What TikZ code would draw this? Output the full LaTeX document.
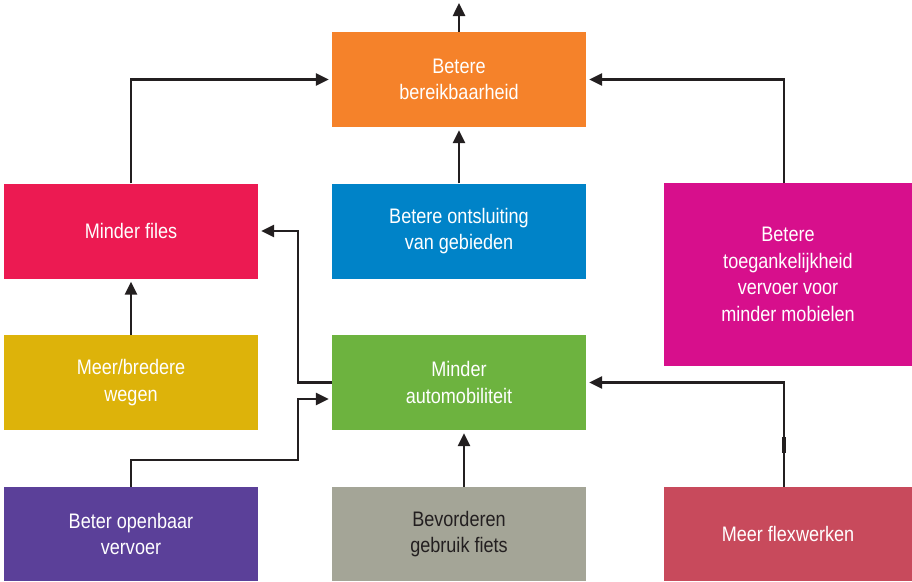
\documentclass[tikz,border=0pt]{standalone}
\usepackage{fontspec}
\setmainfont{Liberation Sans}[FakeStretch=0.86]
\usetikzlibrary{arrows.meta}

\definecolor{cOrange}{HTML}{F5822A}
\definecolor{cRed}{HTML}{EC1A52}
\definecolor{cBlue}{HTML}{0083C8}
\definecolor{cMagenta}{HTML}{D70F8C}
\definecolor{cYellow}{HTML}{DDB30A}
\definecolor{cGreen}{HTML}{6DB33F}
\definecolor{cPurple}{HTML}{5B4099}
\definecolor{cGray}{HTML}{A4A597}
\definecolor{cRose}{HTML}{C84A5C}
\definecolor{cLine}{HTML}{231F20}

\begin{document}
\begin{tikzpicture}[x=1pt,y=-1pt,
  box/.style={draw=none, inner sep=0pt, minimum width=254pt, minimum height=95pt,
    align=center, text=white, font=\fontsize{21}{26.5}\selectfont},
  arr/.style={draw=cLine, line width=2.5pt, shorten >=3pt,
    -{Triangle[length=13pt,width=12pt]}},
]
\useasboundingbox (0,0) rectangle (912,581);

% top row
\node[box, fill=cOrange] (bb) at (459,79.5) {Betere\\bereikbaarheid};
% second row
\node[box, fill=cRed] (mf) at (131,231) {Minder files};
\node[box, fill=cBlue] (on) at (459,231) {Betere ontsluiting\\van gebieden};
\node[box, fill=cMagenta, minimum width=248pt, minimum height=183pt] (tg) at (788,274.5)
  {Betere\\toegankelijkheid\\vervoer voor\\minder mobielen};
% third row
\node[box, fill=cYellow] (mw) at (131,382.5) {Meer/bredere\\wegen};
\node[box, fill=cGreen] (ma) at (459,382.5) {Minder\\automobiliteit};
% bottom row
\node[box, fill=cPurple, minimum height=94pt] (ov) at (131,534) {Beter openbaar\\vervoer};
\node[box, fill=cGray, minimum height=94pt, text=cLine] (fi) at (459,534) {Bevorderen\\gebruik fiets};
\node[box, fill=cRose, minimum width=248pt, minimum height=94pt] (fx) at (788,534) {Meer flexwerken};

\coordinate (out) at (459,3);

% connectors
\draw[arr, shorten >=0pt] (bb.north) -- (out);
\draw[arr] (mf.north) |- (bb.west);
\draw[arr] ([xshift=-4pt]tg.north) |- (bb.east);
\draw[arr] (on.north) -- (bb.south);
\draw[arr] (mw.north) -- (mf.south);
\draw[arr] (ma.west) -- ++(-34,0) |- (mf.east);
\draw[arr] (ov.north) |- (298,460) |- ([yshift=-16.5pt]ma.west);
\draw[arr] ([xshift=5pt]fi.north) -- ([xshift=5pt]ma.south);
\draw[arr] ([xshift=-4pt]fx.north) |- (ma.east);
\fill[cLine] (782,437) rectangle (786,453);
\end{tikzpicture}
\end{document}
